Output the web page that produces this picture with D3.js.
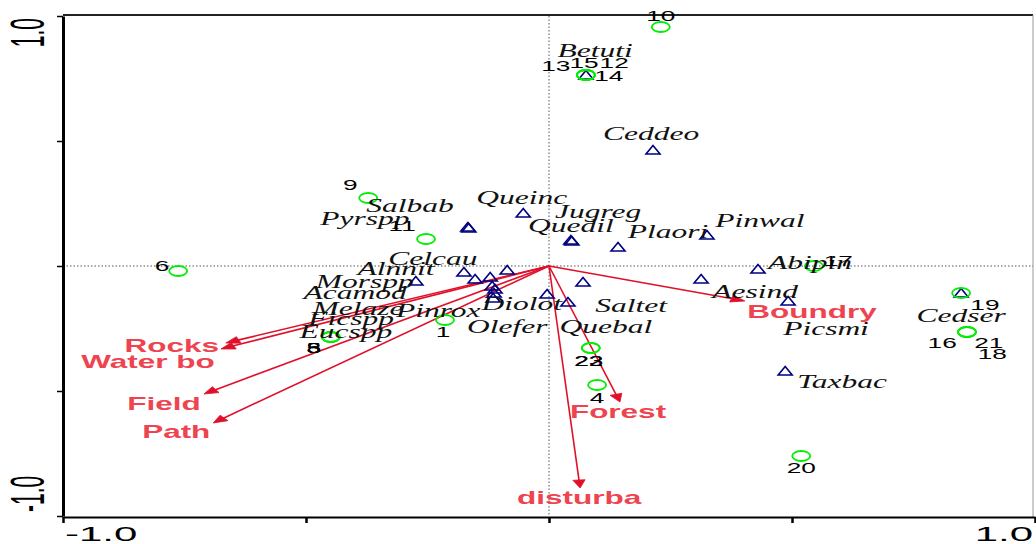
<!DOCTYPE html>
<html>
<head>
<meta charset="utf-8">
<script src="https://cdn.jsdelivr.net/npm/d3@7"></script>
<style>
  html, body { margin: 0; padding: 0; background: #fff; }
  svg { display: block; }
</style>
</head>
<body>
<svg id="chart" width="1036" height="544"></svg>
<script>
// ---- Data (ordination scores) ----
const siteLabels = ["10","13","15","12","14","9","11","6","17","19","16","21","18","1","3","5","8","22","23","4","20"];
const siteX = [0.230,0.076,0.076,0.076,0.076,-0.372,-0.253,-0.763,0.545,0.848,0.860,0.860,0.860,-0.214,-0.449,-0.449,-0.449,0.086,0.086,0.099,0.519];
const siteY = [0.956,0.764,0.764,0.764,0.764,0.272,0.108,-0.020,0.000,-0.108,-0.264,-0.264,-0.264,-0.216,-0.284,-0.284,-0.284,-0.328,-0.328,-0.476,-0.760];
const siteLabelX = [0.230,0.014,0.072,0.134,0.123,-0.409,-0.302,-0.796,0.595,0.897,0.809,0.905,0.912,-0.218,-0.484,-0.484,-0.484,0.082,0.082,0.099,0.519];
const siteLabelY = [0.980,0.780,0.792,0.792,0.740,0.304,0.140,-0.020,0.000,-0.176,-0.328,-0.328,-0.372,-0.284,-0.348,-0.348,-0.348,-0.400,-0.400,-0.548,-0.828];

const speciesNames = ["Betuti","Ceddeo","Queinc","Salbab","Pyrspp","Jugreg","Quedil","Plaori","Pinwal","Celcau","Alnnit","Abipin","Aesind","Picsmi","Taxbac","Cedser","Morspp","Acamod","Melaze","Pinrox","Ficspp","Eucspp","Olefer","Diolot","Quebal","Saltet"];
const speciesX = [0.076,0.214,-0.053,-0.167,-0.165,0.045,0.047,0.142,0.325,-0.175,-0.274,0.430,0.313,0.492,0.486,0.848,-0.152,-0.121,-0.117,-0.111,-0.115,-0.113,-0.086,-0.004,0.039,0.070];
const speciesY = [0.764,0.464,0.212,0.156,0.152,0.104,0.100,0.076,0.124,-0.024,-0.060,-0.012,-0.052,-0.140,-0.420,-0.108,-0.052,-0.044,-0.080,-0.092,-0.128,-0.108,-0.016,-0.112,-0.144,-0.064];
const speciesLabelX = [0.095,0.210,-0.056,-0.286,-0.379,0.101,0.045,0.245,0.434,-0.239,-0.315,0.537,0.424,0.570,0.603,0.848,-0.379,-0.399,-0.393,-0.228,-0.407,-0.418,-0.086,-0.056,0.117,0.169];
const speciesLabelY = [0.836,0.504,0.248,0.216,0.164,0.192,0.136,0.112,0.156,0.004,-0.036,-0.012,-0.128,-0.276,-0.488,-0.224,-0.088,-0.132,-0.196,-0.204,-0.236,-0.288,-0.268,-0.176,-0.268,-0.184];

const envNames = ["Boundry","Rocks","Water bo","Field","Path","Forest","disturba"];
const envX = [0.403,-0.665,-0.675,-0.710,-0.691,0.146,0.064];
const envY = [-0.140,-0.308,-0.332,-0.512,-0.628,-0.544,-0.888];
const envLabelX = [0.541,-0.776,-0.825,-0.792,-0.767,0.142,0.062];
const envLabelY = [-0.208,-0.344,-0.408,-0.576,-0.688,-0.608,-0.952];

const tickValues = [-1, -0.5, 0, 0.5, 1];
const axisLabels = ["-1.0", "1.0"];

// ---- Layout ----
const svg = d3.select("#chart");
const pL = 63, pR = 1035, pT = 16, pB = 516;
const x = d3.scaleLinear().domain([-1, 1]).range([pL, pR]);
const y = d3.scaleLinear().domain([-1, 1]).range([pB, pT]);
const SX = 1.75; // horizontal stretch of the original figure

// frame top & right
svg.append("line").attr("x1", pL).attr("x2", pR - 2).attr("y1", 15).attr("y2", 15)
  .attr("stroke", "#222").attr("stroke-width", 2);
svg.append("line").attr("x1", pR - 2).attr("x2", pR - 2).attr("y1", 15).attr("y2", pB + 1)
  .attr("stroke", "#999").attr("stroke-width", 1);

// zero lines
svg.append("line").attr("x1", pL).attr("x2", pR - 2).attr("y1", y(0)).attr("y2", y(0))
  .attr("stroke", "#555").attr("stroke-width", 1).attr("stroke-dasharray", "1.5,2");
svg.append("line").attr("x1", x(0)).attr("x2", x(0)).attr("y1", pT).attr("y2", pB)
  .attr("stroke", "#555").attr("stroke-width", 1).attr("stroke-dasharray", "1.5,2");

// axes
const gx = svg.append("g").attr("transform", `translate(0,${pB + 1})`)
  .call(d3.axisBottom(x).tickValues(tickValues).tickFormat("").tickSize(6).tickSizeOuter(0));
gx.select(".domain").attr("stroke", "#000").attr("stroke-width", 2);
gx.selectAll(".tick line").attr("stroke", "#000").attr("stroke-width", 2.5);

const gy = svg.append("g").attr("transform", `translate(${pL},0)`)
  .call(d3.axisLeft(y).tickValues(tickValues).tickFormat("").tickSize(6).tickSizeOuter(0));
gy.select(".domain").attr("stroke", "#000").attr("stroke-width", 3);
gy.selectAll(".tick line").attr("stroke", "#000").attr("stroke-width", 1.5);

// axis tick labels
const tickFont = "Liberation Sans, Arial, sans-serif";
svg.append("text").text(axisLabels[0])
  .attr("transform", `translate(${x(-1) + 2},541) scale(2,1)`)
  .attr("font-family", tickFont).attr("font-size", 21).attr("text-anchor", "start").attr("fill", "#000");
svg.append("text").text(axisLabels[1])
  .attr("transform", `translate(${x(1) - 2},541) scale(2,1)`)
  .attr("font-family", tickFont).attr("font-size", 21).attr("text-anchor", "end").attr("fill", "#000");
svg.append("text").text(axisLabels[1])
  .attr("transform", `translate(44,${y(1) + 2}) scale(2.3,1) rotate(-90)`)
  .attr("font-family", tickFont).attr("font-size", 21).attr("text-anchor", "end").attr("fill", "#000");
svg.append("text").text(axisLabels[0])
  .attr("transform", `translate(44,${y(-1) - 4}) scale(2.3,1) rotate(-90)`)
  .attr("font-family", tickFont).attr("font-size", 21).attr("text-anchor", "start").attr("fill", "#000");

// environmental arrows
const envColor = "#e0102a";
const envData = envNames.map((n, i) => ({ n, x: envX[i], y: envY[i], lx: envLabelX[i], ly: envLabelY[i] }));
const gEnv = svg.append("g");
envData.forEach(d => {
  const x0 = x(0), y0 = y(0), x1 = x(d.x), y1 = y(d.y);
  const ux = (x1 - x0) / SX, uy = (y1 - y0);
  const len = Math.hypot(ux, uy);
  const dx = ux / len, dy = uy / len;
  const hl = 8, hw = 3.5;
  const bx = -dx * hl, by = -dy * hl;
  const p1 = [x1, y1];
  const p2 = [x1 + (bx - dy * hw) * SX, y1 + (by + dx * hw)];
  const p3 = [x1 + (bx + dy * hw) * SX, y1 + (by - dx * hw)];
  gEnv.append("line").attr("x1", x0).attr("y1", y0).attr("x2", x1 - dx * hl * 0.6 * SX).attr("y2", y1 - dy * hl * 0.6)
    .attr("stroke", envColor).attr("stroke-width", 1.6);
  gEnv.append("path").attr("d", d3.line()([p1, p2, p3]) + "Z").attr("fill", envColor).attr("stroke", envColor).attr("stroke-width", 0.8);
});

// species triangles
const spData = speciesNames.map((n, i) => ({ n, x: speciesX[i], y: speciesY[i], lx: speciesLabelX[i], ly: speciesLabelY[i] }));
svg.append("g").selectAll("path").data(spData).join("path")
  .attr("d", d => {
    const cx = x(d.x), cy = y(d.y);
    return `M${cx - 7},${cy + 4}L${cx + 7},${cy + 4}L${cx},${cy - 4.5}Z`;
  })
  .attr("fill", "none").attr("stroke", "#000080").attr("stroke-width", 1.6);

// site circles
const siteData = siteLabels.map((n, i) => ({ n, x: siteX[i], y: siteY[i], lx: siteLabelX[i], ly: siteLabelY[i] }));
svg.append("g").selectAll("ellipse").data(siteData).join("ellipse")
  .attr("cx", d => x(d.x)).attr("cy", d => y(d.y)).attr("rx", 9).attr("ry", 5)
  .attr("fill", "none").attr("stroke", "#00ee00").attr("stroke-width", 1.8);

// species labels
svg.append("g").selectAll("text").data(spData).join("text")
  .text(d => d.n)
  .attr("transform", d => `translate(${x(d.lx)},${y(d.ly)}) scale(${SX},1)`)
  .attr("text-anchor", "middle")
  .attr("font-family", "Liberation Serif, Times New Roman, serif").attr("font-style", "italic")
  .attr("font-size", 18).attr("fill", "#111");

// site labels
svg.append("g").selectAll("text").data(siteData).join("text")
  .text(d => d.n)
  .attr("transform", d => `translate(${x(d.lx)},${y(d.ly)}) scale(1.75,1)`)
  .attr("text-anchor", "middle")
  .attr("font-family", tickFont)
  .attr("font-size", 15).attr("fill", "#000");

// env labels
svg.append("g").selectAll("text").data(envData).join("text")
  .text(d => d.n)
  .attr("transform", d => `translate(${x(d.lx)},${y(d.ly)}) scale(${SX},1)`)
  .attr("text-anchor", "middle")
  .attr("font-family", tickFont).attr("font-weight", "bold")
  .attr("font-size", 18).attr("fill", "#ee4450");
</script>
</body>
</html>
